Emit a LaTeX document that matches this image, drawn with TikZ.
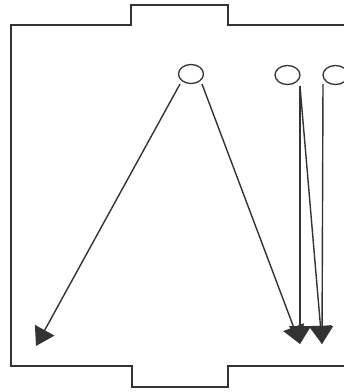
\documentclass[tikz,border=0pt]{standalone}
\usetikzlibrary{arrows.meta,shapes.geometric}
\begin{document}
\begin{tikzpicture}[x=1pt,y=-1pt,
  outline/.style={draw=black!80,line width=1.6pt},
  hole/.style={ellipse,draw=black!80,line width=1.3pt,minimum width=25pt,minimum height=19pt,inner sep=0pt},
  ray/.style={draw=black!80,line width=1.4pt,-{Triangle[length=18pt,width=22pt]}}]
\useasboundingbox (0,0) rectangle (344,392);
\clip (0,0) rectangle (344,392);
\fill[white] (0,0) rectangle (344,392);
\draw[outline] (360,25) -- (228,25) -- (228,5) -- (131,5) -- (131,25) -- (11,25)
  -- (11,366) -- (132,366) -- (132,387) -- (228,387) -- (228,366) -- (360,366);
\node[hole] (c1) at (191,74) {};
\node[hole] (c2) at (287.5,75) {};
\node[hole] (c3) at (335.5,75) {};
\coordinate (s1) at (180,84);
\coordinate (s2) at (202,84);
\coordinate (s3) at (300,86);
\coordinate (s4) at (323,84);
\coordinate (t1) at (36,346);
\coordinate (t2) at (300,344);
\coordinate (t3) at (322,344);
\draw[ray] (s1) -- (t1);
\draw[ray] (s2) -- (t2);
\draw[ray] (s3) -- (t2);
\draw[ray] (s3) -- (t3);
\draw[ray] (s4) -- (t3);
\end{tikzpicture}
\end{document}
